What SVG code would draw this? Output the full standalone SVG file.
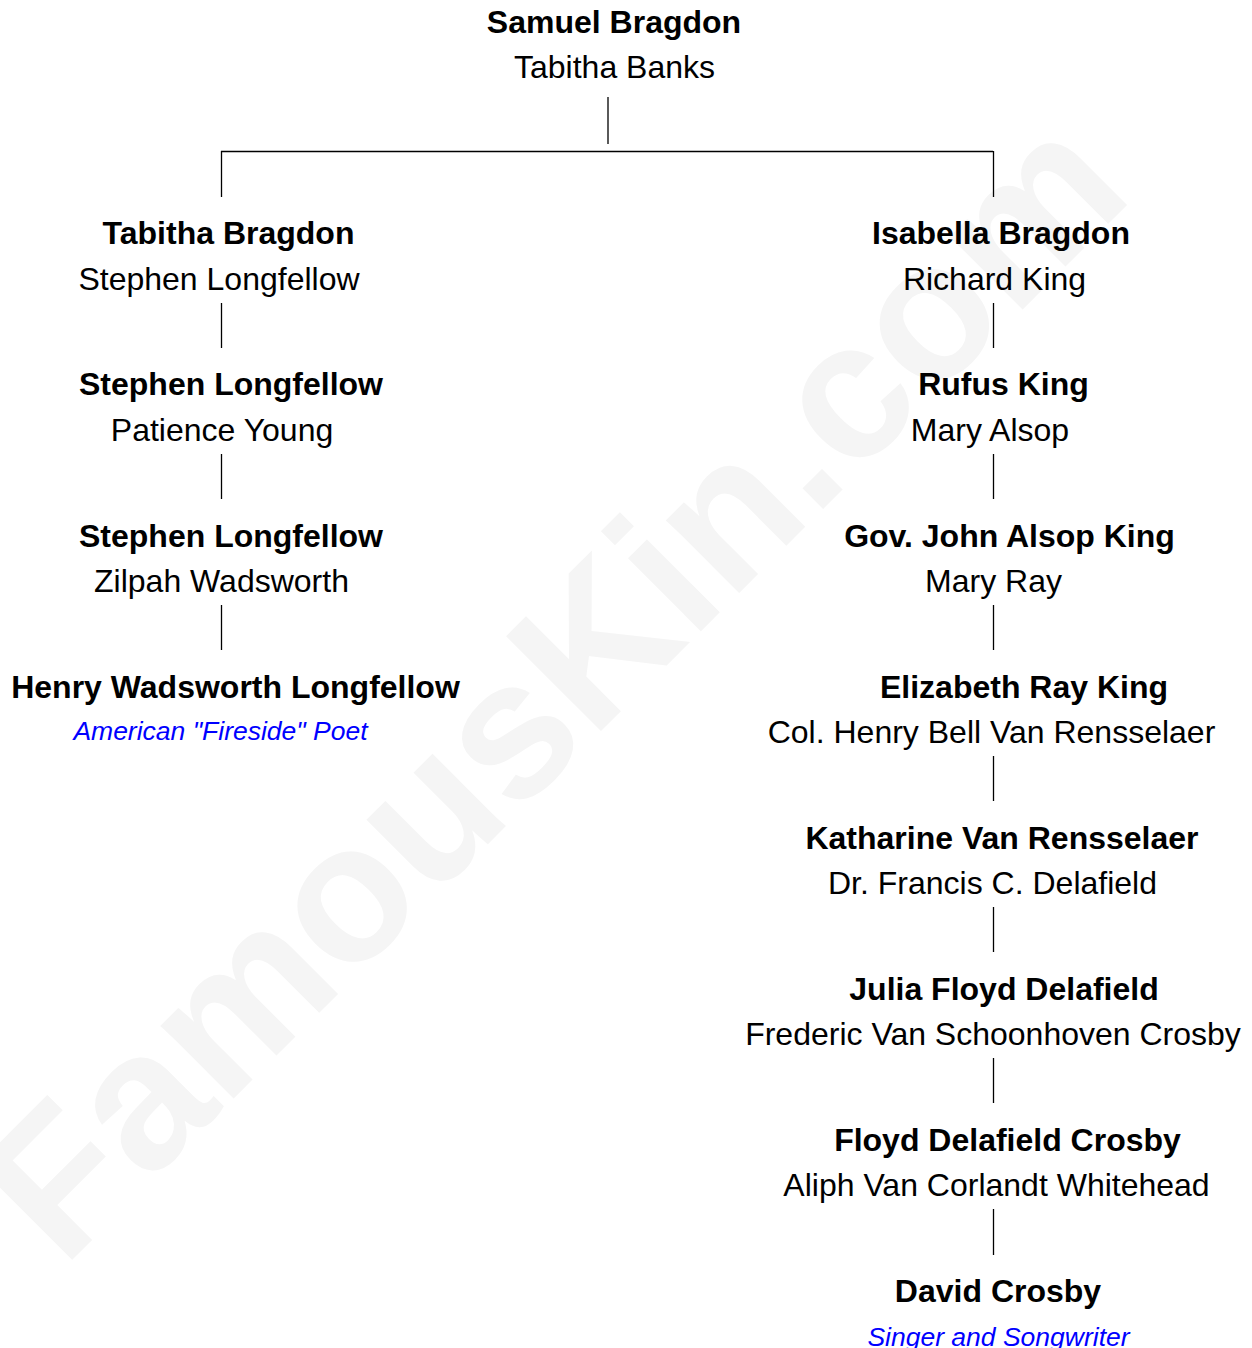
<svg xmlns="http://www.w3.org/2000/svg" width="1252" height="1348" viewBox="0 0 1252 1348">
<style>
text{font-family:"Liberation Sans",Arial,sans-serif;text-anchor:middle;fill:#000}
.b{font-weight:bold;font-size:32px}
.r{font-size:32px}
.i{font-style:italic;font-size:26.5px;fill:#0000ff}
.wm{font-weight:bold;font-size:195px;fill:#f5f5f5;text-anchor:start}
.c line{stroke:#000;stroke-width:1.3}
</style>
<rect width="1252" height="1348" fill="#fff"/>
<text class="wm" transform="translate(63,1269) rotate(-45)">FamousKin.com</text>
<g class="c" id="connectors">
<line x1="608" y1="97" x2="608" y2="144"/>
<line x1="221" y1="151.5" x2="993" y2="151.5"/>
<line x1="221.5" y1="151" x2="221.5" y2="197"/>
<line x1="993.5" y1="151" x2="993.5" y2="197"/>
<line x1="221.5" y1="303" x2="221.5" y2="348"/>
<line x1="221.5" y1="454" x2="221.5" y2="499"/>
<line x1="221.5" y1="605" x2="221.5" y2="650"/>
<line x1="993.5" y1="303" x2="993.5" y2="348"/>
<line x1="993.5" y1="454" x2="993.5" y2="499"/>
<line x1="993.5" y1="605" x2="993.5" y2="650"/>
<line x1="993.5" y1="756" x2="993.5" y2="801"/>
<line x1="993.5" y1="907" x2="993.5" y2="952"/>
<line x1="993.5" y1="1058" x2="993.5" y2="1103"/>
<line x1="993.5" y1="1209" x2="993.5" y2="1255"/>
</g>
<g id="n-samuel"><text class="b" x="614" y="33">Samuel Bragdon</text><text class="r" x="614.5" y="78">Tabitha Banks</text></g>
<g id="n-tabitha"><text class="b" x="228.5" y="244">Tabitha Bragdon</text><text class="r" x="219" y="290">Stephen Longfellow</text></g>
<g id="n-stephen1"><text class="b" x="231" y="395">Stephen Longfellow</text><text class="r" x="222" y="441">Patience Young</text></g>
<g id="n-stephen2"><text class="b" x="231" y="547">Stephen Longfellow</text><text class="r" x="221.5" y="592">Zilpah Wadsworth</text></g>
<g id="n-henry"><text class="b" x="235.5" y="698">Henry Wadsworth Longfellow</text><text class="i" x="220.5" y="740">American "Fireside" Poet</text></g>
<g id="n-isabella"><text class="b" x="1001" y="244">Isabella Bragdon</text><text class="r" x="994.5" y="290">Richard King</text></g>
<g id="n-rufus"><text class="b" x="1003.5" y="395">Rufus King</text><text class="r" x="990" y="441">Mary Alsop</text></g>
<g id="n-john"><text class="b" x="1009.5" y="547">Gov. John Alsop King</text><text class="r" x="993.5" y="592">Mary Ray</text></g>
<g id="n-elizabeth"><text class="b" x="1024" y="698">Elizabeth Ray King</text><text class="r" x="991.5" y="743">Col. Henry Bell Van Rensselaer</text></g>
<g id="n-katharine"><text class="b" x="1002" y="849">Katharine Van Rensselaer</text><text class="r" x="992.5" y="894">Dr. Francis C. Delafield</text></g>
<g id="n-julia"><text class="b" x="1004" y="1000">Julia Floyd Delafield</text><text class="r" x="993" y="1045">Frederic Van Schoonhoven Crosby</text></g>
<g id="n-floyd"><text class="b" x="1007.5" y="1151">Floyd Delafield Crosby</text><text class="r" x="996.5" y="1196">Aliph Van Corlandt Whitehead</text></g>
<g id="n-david"><text class="b" x="998" y="1302">David Crosby</text><text class="i" x="998.5" y="1346">Singer and Songwriter</text></g>
</svg>
